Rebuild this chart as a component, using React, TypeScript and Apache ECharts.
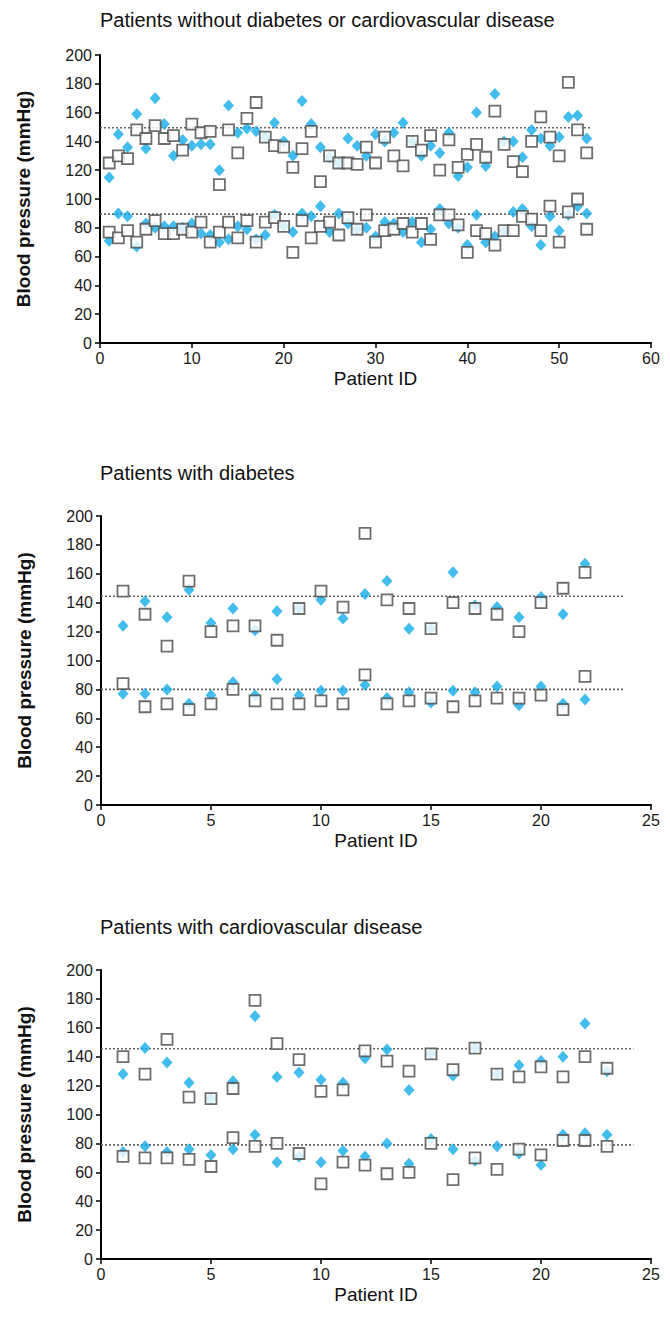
import React, { useEffect, useRef } from "react";
import * as echarts from "echarts";

// ---------- Panel titles ----------
const panelTitles = [
  "Patients without diabetes or cardiovascular disease",
  "Patients with diabetes",
  "Patients with cardiovascular disease",
];

// ---------- Axis ticks ----------
const yTicks = { min: 0, max: 200, interval: 20 };
const xTicks1 = { min: 0, max: 60, interval: 10 };
const xTicks23 = { min: 0, max: 25, interval: 5 };

// ---------- Panel 1: without diabetes or CVD (53 patients) ----------
const p1UpperDiamond = [
  115, 145, 136, 159, 135, 170, 152, 130, 141, 137, 138, 138, 120, 165, 146, 149, 147, 143, 153, 140,
  130, 168, 152, 136, 129, 125, 142, 137, 130, 145, 140, 146, 153, 140, 130, 137, 132, 146, 116, 122,
  160, 123, 173, 140, 140, 129, 148, 142, 137, 143, 157, 158, 142,
];
const p1UpperSquare = [
  125, 130, 128, 148, 142, 151, 142, 144, 134, 152, 146, 147, 110, 148, 132, 156, 167, 143, 137, 136,
  122, 135, 147, 112, 130, 125, 125, 124, 136, 125, 143, 130, 123, 140, 134, 144, 120, 141, 122, 131,
  138, 129, 161, 138, 126, 119, 140, 157, 143, 130, 181, 148, 132,
];
const p1LowerDiamond = [
  71, 90, 88, 67, 83, 80, 81, 81, 80, 83, 76, 75, 70, 72, 81, 79, 72, 75, 89, 81,
  77, 90, 88, 95, 77, 90, 83, 79, 80, 74, 84, 83, 77, 84, 70, 79, 93, 83, 80, 68,
  89, 70, 74, 78, 91, 93, 81, 68, 88, 78, 89, 95, 90,
];
const p1LowerSquare = [
  77, 73, 78, 70, 79, 85, 76, 76, 79, 77, 84, 70, 77, 84, 73, 85, 70, 84, 87, 81,
  63, 85, 73, 81, 84, 75, 87, 79, 89, 70, 78, 79, 83, 77, 83, 72, 89, 89, 82, 63,
  78, 76, 68, 78, 78, 88, 86, 78, 95, 70, 91, 100, 79,
];
const p1RefLevels = [149.5, 89.5];
const p1RefSpan = [0, 53.5];

// ---------- Panel 2: with diabetes (22 patients) ----------
const p2UpperDiamond = [124, 141, 130, 149, 126, 136, 121, 134, 136, 142, 129, 146, 155, 122, 122, 161, 138, 137, 130, 144, 132, 167];
const p2UpperSquare = [148, 132, 110, 155, 120, 124, 124, 114, 136, 148, 137, 188, 142, 136, 122, 140, 136, 132, 120, 140, 150, 161];
const p2LowerDiamond = [77, 77, 80, 70, 76, 85, 76, 87, 76, 79, 79, 83, 74, 78, 71, 79, 78, 82, 69, 82, 70, 73];
const p2LowerSquare = [84, 68, 70, 66, 70, 80, 72, 70, 70, 72, 70, 90, 70, 72, 74, 68, 72, 74, 74, 76, 66, 89];
const p2RefLevels = [144.5, 80];
const p2RefSpan = [0, 23.8];

// ---------- Panel 3: with CVD (23 patients) ----------
const p3UpperDiamond = [128, 146, 136, 122, 111, 123, 168, 126, 129, 124, 122, 139, 145, 117, 142, 127, 146, 128, 134, 137, 140, 163, 130];
const p3UpperSquare = [140, 128, 152, 112, 111, 118, 179, 149, 138, 116, 117, 144, 137, 130, 142, 131, 146, 128, 126, 133, 126, 140, 132];
const p3LowerDiamond = [74, 78, 74, 76, 72, 76, 86, 67, 71, 67, 75, 71, 80, 66, 83, 76, 68, 78, 73, 65, 86, 87, 86];
const p3LowerSquare = [71, 70, 70, 69, 64, 84, 78, 80, 73, 52, 67, 65, 59, 60, 80, 55, 70, 62, 76, 72, 82, 82, 78];
const p3RefLevels = [145.5, 79];
const p3RefSpan = [0, 24.2];

const FONT = "'Liberation Sans', Arial, Helvetica, sans-serif";
const BLUE = "#14ACE8";
const SQ = "#4a4a4a";

const toPoints = (vals: number[]) => vals.map((v, i) => [i + 1, v]);

function buildOption() {
  const grids = [
    { left: 100, top: 55, width: 551, height: 288 },
    { left: 101, top: 516, width: 550, height: 289 },
    { left: 101, top: 970, width: 550, height: 289 },
  ];
  const titleTops = [5, 458, 912];

  const axisCommon = {
    axisLine: { show: true, onZero: false, lineStyle: { color: "#000", width: 2 } },
    axisTick: { show: true, length: 5, lineStyle: { color: "#000", width: 1.5 } },
    splitLine: { show: false },
    axisLabel: { color: "#1a1a1a", fontSize: 16, fontFamily: FONT },
    nameTextStyle: { color: "#111", fontSize: 19, fontFamily: FONT },
  };

  const xAxes = [xTicks1, xTicks23, xTicks23].map((t, i) => ({
    ...axisCommon,
    type: "value",
    gridIndex: i,
    min: t.min,
    max: t.max,
    interval: t.interval,
    name: "Patient ID",
    nameLocation: "middle",
    nameGap: 26,
    axisLabel: { ...axisCommon.axisLabel, margin: 7 },
  }));
  const yAxes = [0, 1, 2].map((i) => ({
    ...axisCommon,
    type: "value",
    gridIndex: i,
    min: yTicks.min,
    max: yTicks.max,
    interval: yTicks.interval,
    name: "Blood pressure (mmHg)",
    nameLocation: "middle",
    nameGap: 67,
    nameTextStyle: { ...axisCommon.nameTextStyle, fontSize: 19, fontWeight: 600 },
    axisLabel: { ...axisCommon.axisLabel, margin: 8 },
  }));

  const panels = [
    { ud: p1UpperDiamond, us: p1UpperSquare, ld: p1LowerDiamond, ls: p1LowerSquare, ref: p1RefLevels, span: p1RefSpan },
    { ud: p2UpperDiamond, us: p2UpperSquare, ld: p2LowerDiamond, ls: p2LowerSquare, ref: p2RefLevels, span: p2RefSpan },
    { ud: p3UpperDiamond, us: p3UpperSquare, ld: p3LowerDiamond, ls: p3LowerSquare, ref: p3RefLevels, span: p3RefSpan },
  ];

  const series: any[] = [];
  panels.forEach((p, i) => {
    p.ref.forEach((lvl) => {
      series.push({
        type: "line",
        xAxisIndex: i,
        yAxisIndex: i,
        data: [
          [p.span[0], lvl],
          [p.span[1], lvl],
        ],
        symbol: "none",
        silent: true,
        lineStyle: { color: "#666", width: 1.6, type: [2, 2] },
        z: 1,
      });
    });
    [p.ud, p.ld].forEach((vals) => {
      series.push({
        type: "scatter",
        name: "Diamond",
        xAxisIndex: i,
        yAxisIndex: i,
        data: toPoints(vals),
        symbol: "diamond",
        symbolSize: [11, 12],
        itemStyle: { color: BLUE },
        z: 2,
      });
    });
    [p.us, p.ls].forEach((vals) => {
      series.push({
        type: "scatter",
        name: "Square",
        xAxisIndex: i,
        yAxisIndex: i,
        data: toPoints(vals),
        symbol: "rect",
        symbolSize: 11,
        itemStyle: { color: "#fff", borderColor: SQ, borderWidth: 1.8 },
        z: 3,
      });
    });
  });

  return {
    animation: false,
    backgroundColor: "#fff",
    title: panelTitles.map((t, i) => ({
      text: t,
      left: 95,
      top: titleTops[i],
      textStyle: { fontSize: 20, fontWeight: "normal", color: "#111", fontFamily: FONT },
    })),
    grid: grids,
    xAxis: xAxes,
    yAxis: yAxes,
    series,
  };
}

export default function App() {
  const ref = useRef<HTMLDivElement>(null);
  useEffect(() => {
    if (!ref.current) return;
    const chart = echarts.init(ref.current, null, { renderer: "svg" });
    chart.setOption(buildOption() as any);
    return () => chart.dispose();
  }, []);
  return (
    <div
      ref={ref}
      style={{ position: "absolute", left: 0, top: 0, width: 670, height: 1330, background: "#fff" }}
    />
  );
}
